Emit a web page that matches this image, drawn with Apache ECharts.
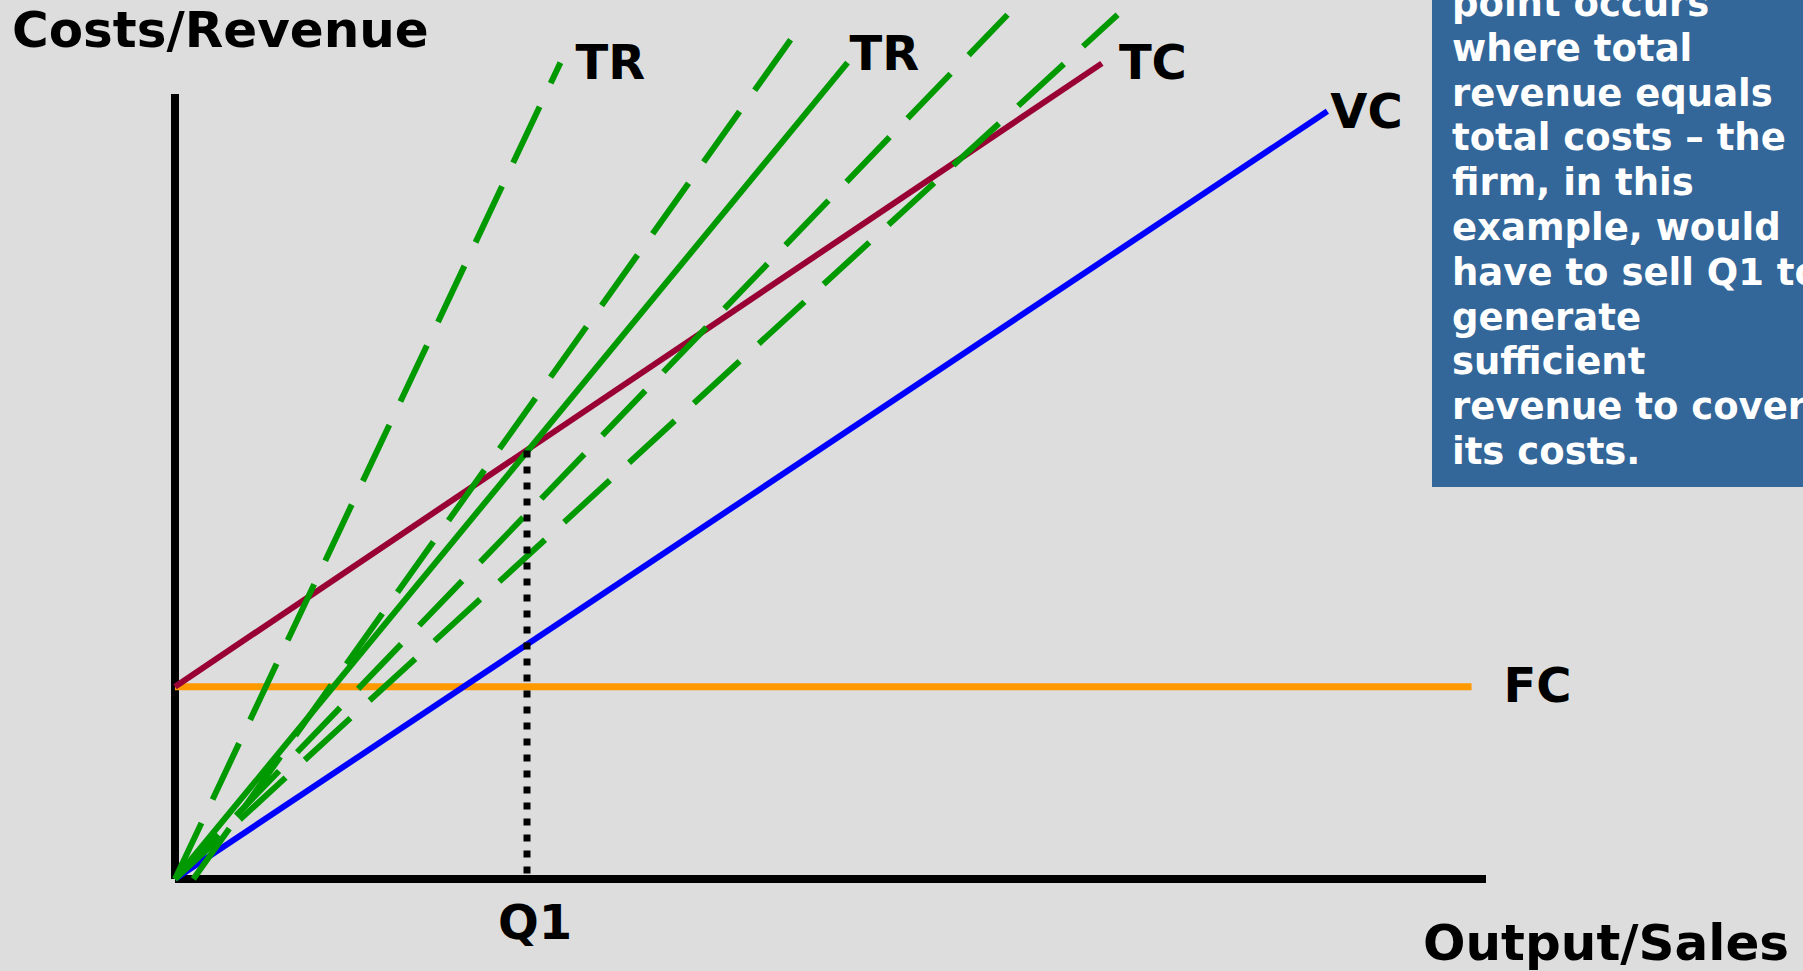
<!DOCTYPE html>
<html>
<head>
<meta charset="utf-8">
<title>Break-even chart</title>
<script src="https://cdn.jsdelivr.net/npm/echarts@6/dist/echarts.min.js"></script>
<style>
  html, body { margin: 0; padding: 0; background: #dddddd; }
  #chart { width: 1803px; height: 971px; }
</style>
</head>
<body>
<div id="chart"></div>
<script>
// Break-even chart: fixed, variable and total costs against total revenue lines.
// Points are [output, costs/revenue] in the chart's own units (0-100 on both axes).
const fixedCost     = [[0, 24.5], [98.9, 24.5]];
const variableCost  = [[0, 0], [87.9, 97.8]];
const totalCost     = [[0, 24.5], [70.7, 103.9]];
const totalRevenue  = [[0, 0], [51.3, 104.0]];
const revenueHigh   = [[0, 0], [29.4, 104.0]];
const revenueMid    = [[1.4, 0], [47.0, 107.0]];
const revenueLow    = [[0, 0], [63.5, 110.1]];
const revenueLowest = [[0, 0], [71.9, 110.1]];
const breakEvenQ     = 26.85;
const breakEvenValue = 54.6;

const noteLines = [
  'point occurs',
  'where total',
  'revenue equals',
  'total costs \u2013 the',
  'firm, in this',
  'example, would',
  'have to sell Q1 to',
  'generate',
  'sufficient',
  'revenue to cover',
  'its costs.'
];

const FONT = '"DejaVu Sans", Verdana, sans-serif';
const GREEN = '#009900';
const DASH = [62, 26];

const chart = echarts.init(document.getElementById('chart'), null, { renderer: 'svg' });

function line(name, data, color, width, type) {
  return {
    name: name,
    type: 'line',
    data: data,
    symbol: 'none',
    clip: false,
    silent: true,
    lineStyle: { color: color, width: width, type: type, cap: 'butt' }
  };
}

chart.setOption({
  animation: false,
  backgroundColor: '#dddddd',
  grid: { left: 175, top: 94, width: 1311, height: 785, containLabel: false },
  xAxis: {
    type: 'value', min: 0, max: 100,
    axisLine: { show: true, lineStyle: { color: '#000', width: 8, cap: 'butt' } },
    axisTick: { show: false }, axisLabel: { show: false }, splitLine: { show: false }
  },
  yAxis: {
    type: 'value', min: 0, max: 100,
    axisLine: { show: true, lineStyle: { color: '#000', width: 8, cap: 'butt' } },
    axisTick: { show: false }, axisLabel: { show: false }, splitLine: { show: false }
  },
  series: [
    line('FC', fixedCost, '#ff9900', 7, 'solid'),
    line('VC', variableCost, '#0000ff', 6, 'solid'),
    line('TC', totalCost, '#990033', 6, 'solid'),
    line('TR high price', revenueHigh, GREEN, 6, DASH),
    line('TR mid price', revenueMid, GREEN, 6, DASH),
    line('TR low price', revenueLow, GREEN, 6, DASH),
    line('TR lowest price', revenueLowest, GREEN, 6, DASH),
    line('TR', totalRevenue, GREEN, 6, 'solid'),
    line('Q1', [[breakEvenQ, breakEvenValue], [breakEvenQ, 0]], '#000', 7, [7, 9])
  ]
});

// Text annotations placed from the data points they belong to
const labelSpecs = [
  { text: 'TR', at: revenueHigh[1],  dx: 15, dy: -1 },
  { text: 'TR', at: totalRevenue[1], dx: 2,  dy: -10 },
  { text: 'TC', at: totalCost[1],    dx: 17, dy: -1 },
  { text: 'VC', at: variableCost[1], dx: 3,  dy: 0 },
  { text: 'FC', at: fixedCost[1],    dx: 32, dy: -2 }
];

function txt(text, x, y, size, align, color) {
  return {
    type: 'text', silent: true, z: 100,
    style: {
      text: text, x: x, y: y,
      fill: color || '#000',
      font: 'bold ' + size + 'px ' + FONT,
      align: align || 'left',
      verticalAlign: 'middle'
    }
  };
}

const graphics = [];
labelSpecs.forEach(function (s) {
  const p = chart.convertToPixel({ gridIndex: 0 }, s.at);
  graphics.push(txt(s.text, p[0] + s.dx, p[1] + s.dy, 48));
});
const q = chart.convertToPixel({ gridIndex: 0 }, [breakEvenQ, 0]);
graphics.push(txt('Q1', q[0] + 8, q[1] + 43, 48, 'center'));
graphics.push(txt('Costs/Revenue', 12, 30, 50));
graphics.push(txt('Output/Sales', 1423, 943, 50));

// Explanatory note box in the top-right corner
graphics.push({
  type: 'rect', silent: true, z: 90,
  shape: { x: 1432, y: -10, width: 400, height: 497 },
  style: { fill: '#336699' }
});
graphics.push({
  type: 'text', silent: true, z: 100,
  style: {
    text: noteLines.join('\n'),
    x: 1452, y: -19,
    fill: '#ffffff',
    font: 'bold 37px ' + FONT,
    lineHeight: 44.8,
    align: 'left',
    verticalAlign: 'top'
  }
});

chart.setOption({ graphic: graphics });
</script>
</body>
</html>
